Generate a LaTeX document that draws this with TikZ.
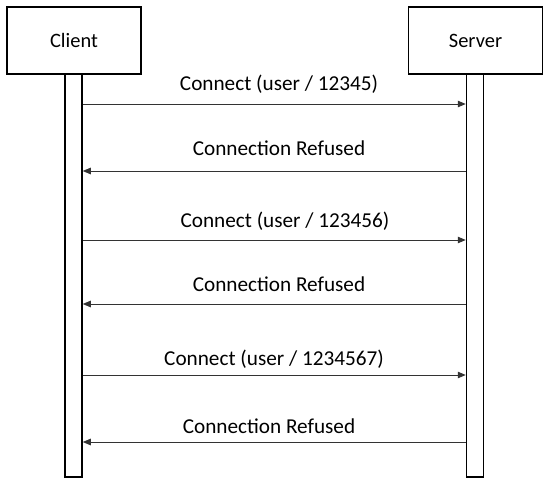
\documentclass[tikz,border=0pt]{standalone}
\usepackage{fontspec}
\setmainfont{Carlito}
\usetikzlibrary{arrows.meta}
\begin{document}
\begin{tikzpicture}[x=1bp,y=-1bp,
  actor/.style={draw=black,line width=1.6bp,minimum width=134bp,minimum height=67bp,inner sep=0pt,font=\fontsize{20.5}{24}\selectfont},
  life/.style={draw=black,line width=1.5bp,minimum width=17bp,minimum height=402bp,inner sep=0pt},
  msg/.style={draw=black!80,line width=0.9bp,-{Triangle[length=8bp,width=6.5bp]}},
  lbl/.style={font=\fontsize{21.3}{25}\selectfont,inner sep=0pt,anchor=base}]
\useasboundingbox (0,0) rectangle (550,482);
\node[actor] (client) at (74,40.5) {Client};
\node[actor] (server) at (475.5,40.5) {Server};
\node[life,anchor=north] (cl) at (73.5,74) {};
\node[life,anchor=north] (sl) at (475,74) {};
\draw[msg] (cl.east |- 0,104) -- (sl.west |- 0,104);
\draw[msg] (sl.west |- 0,171) -- (cl.east |- 0,171);
\draw[msg] (cl.east |- 0,240) -- (sl.west |- 0,240);
\draw[msg] (sl.west |- 0,304) -- (cl.east |- 0,304);
\draw[msg] (cl.east |- 0,375) -- (sl.west |- 0,375);
\draw[msg] (sl.west |- 0,442) -- (cl.east |- 0,442);
\node[lbl] (l1) at (279,91) {Connect (user / 12345)};
\node[lbl] (l2) at (279,156) {Connection Refused};
\node[lbl] (l3) at (285,227) {Connect (user / 123456)};
\node[lbl] (l4) at (279,291) {Connection Refused};
\node[lbl] (l5) at (274,365) {Connect (user / 1234567)};
\node[lbl] (l6) at (269,433) {Connection Refused};
\end{tikzpicture}
\end{document}
